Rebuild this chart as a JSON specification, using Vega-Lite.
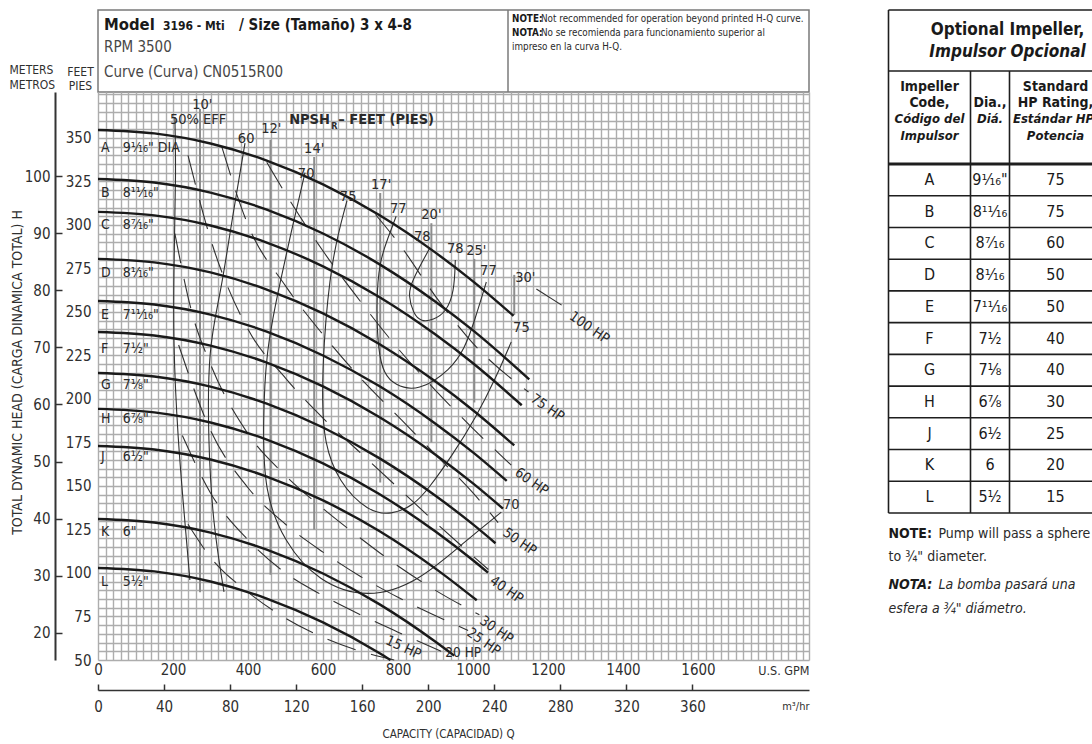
{
  "$schema": "https://vega.github.io/schema/vega-lite/v6.json",
  "padding": {"left": 8, "top": 8, "right": 0, "bottom": 0},
  "background": "white",
  "config": {
    "font": "Liberation Sans Narrow, DejaVu Sans Condensed, sans-serif",
    "view": {"stroke": null},
    "text": {"color": "#2a2a2a"},
    "axis": {"labelColor": "#2f2f2f", "titleColor": "#2f2f2f", "titleFontWeight": "normal"}
  },
  "datasets": {
    "htx": [
      {"t": "Model", "x": 6, "y": 20, "r": "big"},
      {"t": "3196 - Mti", "x": 65, "y": 20, "r": "mid"},
      {"t": "/ Size (Tamaño) 3 x 4-8", "x": 141, "y": 20, "r": "big2"},
      {"t": "RPM 3500", "x": 6, "y": 42, "r": "reg"},
      {"t": "Curve (Curva) CN0515R00", "x": 6, "y": 66.5, "r": "reg"},
      {"t": "NOTE:", "x": 414, "y": 11.5, "r": "nb"},
      {"t": "Not recommended for operation beyond printed H-Q curve.", "x": 443, "y": 11.5, "r": "n"},
      {"t": "NOTA:", "x": 414, "y": 25.5, "r": "nb"},
      {"t": "No se recomienda para funcionamiento superior al", "x": 443, "y": 25.5, "r": "n"},
      {"t": "impreso en la curva H-Q.", "x": 414, "y": 39.5, "r": "n"}
    ],
    "hq": [
      {"c": "A", "q": 0, "h": 354.6}, {"c": "A", "q": 150, "h": 352.6}, {"c": "A", "q": 300, "h": 346.8}, {"c": "A", "q": 450, "h": 337.0}, {"c": "A", "q": 600, "h": 323.3}, {"c": "A", "q": 750, "h": 305.7}, {"c": "A", "q": 900, "h": 284.1}, {"c": "A", "q": 1000, "h": 267.6}, {"c": "A", "q": 1108, "h": 247.8},
      {"c": "B", "q": 0, "h": 326.4}, {"c": "B", "q": 150, "h": 324.4}, {"c": "B", "q": 300, "h": 318.6}, {"c": "B", "q": 450, "h": 308.8}, {"c": "B", "q": 600, "h": 295.1}, {"c": "B", "q": 750, "h": 277.5}, {"c": "B", "q": 900, "h": 255.9}, {"c": "B", "q": 1000, "h": 239.4}, {"c": "B", "q": 1150, "h": 211.3},
      {"c": "C", "q": 0, "h": 307.5}, {"c": "C", "q": 150, "h": 305.5}, {"c": "C", "q": 300, "h": 299.7}, {"c": "C", "q": 450, "h": 289.9}, {"c": "C", "q": 600, "h": 276.2}, {"c": "C", "q": 750, "h": 258.6}, {"c": "C", "q": 900, "h": 237.0}, {"c": "C", "q": 1000, "h": 220.5}, {"c": "C", "q": 1130, "h": 196.4},
      {"c": "D", "q": 0, "h": 280.5}, {"c": "D", "q": 150, "h": 278.5}, {"c": "D", "q": 300, "h": 272.7}, {"c": "D", "q": 450, "h": 262.9}, {"c": "D", "q": 600, "h": 249.2}, {"c": "D", "q": 750, "h": 231.6}, {"c": "D", "q": 900, "h": 210.0}, {"c": "D", "q": 1000, "h": 193.5}, {"c": "D", "q": 1110, "h": 173.3},
      {"c": "E", "q": 0, "h": 256.3}, {"c": "E", "q": 150, "h": 254.3}, {"c": "E", "q": 300, "h": 248.5}, {"c": "E", "q": 450, "h": 238.7}, {"c": "E", "q": 600, "h": 225.0}, {"c": "E", "q": 750, "h": 207.4}, {"c": "E", "q": 900, "h": 185.8}, {"c": "E", "q": 1000, "h": 169.3}, {"c": "E", "q": 1090, "h": 152.9},
      {"c": "F", "q": 0, "h": 238.5}, {"c": "F", "q": 150, "h": 236.5}, {"c": "F", "q": 300, "h": 230.7}, {"c": "F", "q": 450, "h": 220.9}, {"c": "F", "q": 600, "h": 207.2}, {"c": "F", "q": 750, "h": 189.6}, {"c": "F", "q": 900, "h": 168.0}, {"c": "F", "q": 1000, "h": 151.5}, {"c": "F", "q": 1080, "h": 137.0},
      {"c": "G", "q": 0, "h": 214.9}, {"c": "G", "q": 150, "h": 212.9}, {"c": "G", "q": 300, "h": 207.1}, {"c": "G", "q": 450, "h": 197.3}, {"c": "G", "q": 600, "h": 183.6}, {"c": "G", "q": 750, "h": 166.0}, {"c": "G", "q": 900, "h": 144.4}, {"c": "G", "q": 1000, "h": 127.9}, {"c": "G", "q": 1060, "h": 117.1},
      {"c": "H", "q": 0, "h": 194.3}, {"c": "H", "q": 150, "h": 192.3}, {"c": "H", "q": 300, "h": 186.5}, {"c": "H", "q": 450, "h": 176.7}, {"c": "H", "q": 600, "h": 163.0}, {"c": "H", "q": 750, "h": 145.4}, {"c": "H", "q": 900, "h": 123.8}, {"c": "H", "q": 1000, "h": 107.3}, {"c": "H", "q": 1040, "h": 100.2},
      {"c": "J", "q": 0, "h": 173.0}, {"c": "J", "q": 150, "h": 171.0}, {"c": "J", "q": 300, "h": 165.2}, {"c": "J", "q": 450, "h": 155.4}, {"c": "J", "q": 600, "h": 141.7}, {"c": "J", "q": 750, "h": 124.1}, {"c": "J", "q": 900, "h": 102.5}, {"c": "J", "q": 1010, "h": 84.3},
      {"c": "K", "q": 0, "h": 131.0}, {"c": "K", "q": 150, "h": 129.0}, {"c": "K", "q": 300, "h": 123.2}, {"c": "K", "q": 450, "h": 113.4}, {"c": "K", "q": 600, "h": 99.7}, {"c": "K", "q": 750, "h": 82.1}, {"c": "K", "q": 900, "h": 60.5}, {"c": "K", "q": 950, "h": 52.5},
      {"c": "L", "q": 0, "h": 102.9}, {"c": "L", "q": 150, "h": 100.9}, {"c": "L", "q": 300, "h": 95.1}, {"c": "L", "q": 450, "h": 85.3}, {"c": "L", "q": 600, "h": 71.6}, {"c": "L", "q": 750, "h": 54.0}, {"c": "L", "q": 780, "h": 50.0}
    ],
    "eff": [
      {"e": "50", "i": 0, "q": 205, "h": 362}, {"e": "50", "i": 1, "q": 208, "h": 330}, {"e": "50", "i": 2, "q": 203, "h": 284.5}, {"e": "50", "i": 3, "q": 200, "h": 232.8}, {"e": "50", "i": 4, "q": 213.5, "h": 175.3}, {"e": "50", "i": 5, "q": 229.5, "h": 135}, {"e": "50", "i": 6, "q": 245, "h": 96},
      {"e": "60", "i": 0, "q": 392, "h": 347}, {"e": "60", "i": 1, "q": 355, "h": 300}, {"e": "60", "i": 2, "q": 328, "h": 261.5}, {"e": "60", "i": 3, "q": 293.6, "h": 229.9}, {"e": "60", "i": 4, "q": 293.6, "h": 175.3}, {"e": "60", "i": 5, "q": 307, "h": 127.6}, {"e": "60", "i": 6, "q": 336, "h": 89.1},
      {"e": "70", "i": 0, "q": 552, "h": 330}, {"e": "70", "i": 1, "q": 515, "h": 296}, {"e": "70", "i": 2, "q": 480, "h": 261.5}, {"e": "70", "i": 3, "q": 448, "h": 227}, {"e": "70", "i": 4, "q": 440, "h": 186.8}, {"e": "70", "i": 5, "q": 443, "h": 146.6}, {"e": "70", "i": 6, "q": 496, "h": 117.8}, {"e": "70", "i": 7, "q": 587, "h": 94.8}, {"e": "70", "i": 8, "q": 720.6, "h": 85}, {"e": "70", "i": 9, "q": 854, "h": 94.8}, {"e": "70", "i": 10, "q": 977, "h": 117.8}, {"e": "70", "i": 11, "q": 1075.5, "h": 135},
      {"e": "75", "i": 0, "q": 664, "h": 314}, {"e": "75", "i": 1, "q": 621.8, "h": 280.5}, {"e": "75", "i": 2, "q": 600.5, "h": 228.7}, {"e": "75", "i": 3, "q": 597.8, "h": 198.3}, {"e": "75", "i": 4, "q": 603, "h": 175.3}, {"e": "75", "i": 5, "q": 640.5, "h": 152.3}, {"e": "75", "i": 6, "q": 720.6, "h": 135.1}, {"e": "75", "i": 7, "q": 782, "h": 133.3}, {"e": "75", "i": 8, "q": 843, "h": 139.1}, {"e": "75", "i": 9, "q": 880.7, "h": 148.3}, {"e": "75", "i": 10, "q": 942, "h": 166.7}, {"e": "75", "i": 11, "q": 1008.8, "h": 189.7}, {"e": "75", "i": 12, "q": 1062, "h": 212.6}, {"e": "75", "i": 13, "q": 1102, "h": 232.8},
      {"e": "77", "i": 0, "q": 795, "h": 305}, {"e": "77", "i": 1, "q": 774, "h": 293.1}, {"e": "77", "i": 2, "q": 750, "h": 278.7}, {"e": "77", "i": 3, "q": 742, "h": 255.7}, {"e": "77", "i": 4, "q": 747, "h": 227}, {"e": "77", "i": 5, "q": 763, "h": 214.4}, {"e": "77", "i": 6, "q": 790, "h": 208}, {"e": "77", "i": 7, "q": 854, "h": 204}, {"e": "77", "i": 8, "q": 942, "h": 217.2}, {"e": "77", "i": 9, "q": 977, "h": 228.7}, {"e": "77", "i": 10, "q": 1003.5, "h": 244.3}, {"e": "77", "i": 11, "q": 1035.5, "h": 267.2},
      {"e": "78", "i": 0, "q": 883.4, "h": 286.2}, {"e": "78", "i": 1, "q": 835.3, "h": 267.2}, {"e": "78", "i": 2, "q": 827.3, "h": 259.8}, {"e": "78", "i": 3, "q": 840.7, "h": 248.9}, {"e": "78", "i": 4, "q": 862, "h": 244.3}, {"e": "78", "i": 5, "q": 894, "h": 245.4}, {"e": "78", "i": 6, "q": 928.7, "h": 250}, {"e": "78", "i": 7, "q": 950, "h": 261.5}, {"e": "78", "i": 8, "q": 952.8, "h": 279.9}
    ],
    "hp": [
      {"p": "100", "q": 1169, "h": 263.2}, {"p": "100", "q": 1244, "h": 252.9},
      {"p": "75", "q": 740, "h": 306}, {"p": "75", "q": 800, "h": 290}, {"p": "75", "q": 900, "h": 259}, {"p": "75", "q": 1000, "h": 232}, {"p": "75", "q": 1148, "h": 204},
      {"p": "60", "q": 450, "h": 336}, {"p": "60", "q": 500, "h": 318}, {"p": "60", "q": 600, "h": 285}, {"p": "60", "q": 700, "h": 256}, {"p": "60", "q": 800, "h": 229}, {"p": "60", "q": 900, "h": 205}, {"p": "60", "q": 1000, "h": 183}, {"p": "60", "q": 1102, "h": 162},
      {"p": "50", "q": 330, "h": 345}, {"p": "50", "q": 400, "h": 300}, {"p": "50", "q": 500, "h": 265}, {"p": "50", "q": 600, "h": 237}, {"p": "50", "q": 700, "h": 212}, {"p": "50", "q": 800, "h": 190}, {"p": "50", "q": 900, "h": 168}, {"p": "50", "q": 1000, "h": 146}, {"p": "50", "q": 1067, "h": 129},
      {"p": "40", "q": 240, "h": 340}, {"p": "40", "q": 300, "h": 292}, {"p": "40", "q": 400, "h": 240}, {"p": "40", "q": 500, "h": 212}, {"p": "40", "q": 600, "h": 189}, {"p": "40", "q": 700, "h": 169}, {"p": "40", "q": 800, "h": 149}, {"p": "40", "q": 900, "h": 129}, {"p": "40", "q": 1041, "h": 102},
      {"p": "30", "q": 205, "h": 295}, {"p": "30", "q": 250, "h": 250}, {"p": "30", "q": 300, "h": 220}, {"p": "30", "q": 400, "h": 180}, {"p": "30", "q": 500, "h": 156}, {"p": "30", "q": 600, "h": 137}, {"p": "30", "q": 700, "h": 120}, {"p": "30", "q": 800, "h": 104}, {"p": "30", "q": 900, "h": 90}, {"p": "30", "q": 1017, "h": 76},
      {"p": "25", "q": 215, "h": 231}, {"p": "25", "q": 300, "h": 182}, {"p": "25", "q": 400, "h": 149}, {"p": "25", "q": 500, "h": 128}, {"p": "25", "q": 600, "h": 112}, {"p": "25", "q": 700, "h": 98}, {"p": "25", "q": 800, "h": 86}, {"p": "25", "q": 987, "h": 67},
      {"p": "20", "q": 225, "h": 179}, {"p": "20", "q": 300, "h": 146}, {"p": "20", "q": 400, "h": 119}, {"p": "20", "q": 500, "h": 100}, {"p": "20", "q": 600, "h": 87}, {"p": "20", "q": 700, "h": 76}, {"p": "20", "q": 800, "h": 66}, {"p": "20", "q": 915, "h": 55},
      {"p": "15", "q": 240, "h": 128}, {"p": "15", "q": 300, "h": 109}, {"p": "15", "q": 400, "h": 89}, {"p": "15", "q": 500, "h": 74}, {"p": "15", "q": 600, "h": 63}, {"p": "15", "q": 700, "h": 55}, {"p": "15", "q": 790, "h": 50}
    ],
    "npsh": [
      {"n": "10'", "q": 272, "h": 366.7, "h2": 89},
      {"n": "12'", "q": 460, "h": 349, "h2": 99},
      {"n": "14'", "q": 576.5, "h": 339, "h2": 125},
      {"n": "17'", "q": 752.6, "h": 318.4, "h2": 152},
      {"n": "20'", "q": 889, "h": 301, "h2": 175},
      {"n": "25'", "q": 1003.5, "h": 280.5, "h2": 198},
      {"n": "30'", "q": 1110, "h": 271.3, "h2": 248.3}
    ],
    "cl": [
      {"t": "A", "q": 8, "h": 344.3}, {"t": "9¹⁄₁₆\" DIA", "q": 66, "h": 344.3},
      {"t": "B", "q": 8, "h": 318.5}, {"t": "8¹¹⁄₁₆\"", "q": 66, "h": 318.5},
      {"t": "C", "q": 8, "h": 299.8}, {"t": "8⁷⁄₁₆\"", "q": 66, "h": 299.8},
      {"t": "D", "q": 8, "h": 272.6}, {"t": "8¹⁄₁₆\"", "q": 66, "h": 272.6},
      {"t": "E", "q": 8, "h": 248.1}, {"t": "7¹¹⁄₁₆\"", "q": 66, "h": 248.1},
      {"t": "F", "q": 8, "h": 228.9}, {"t": "7½\"", "q": 66, "h": 228.9},
      {"t": "G", "q": 8, "h": 207.9}, {"t": "7⅛\"", "q": 66, "h": 207.9},
      {"t": "H", "q": 8, "h": 188.3}, {"t": "6⅞\"", "q": 66, "h": 188.3},
      {"t": "J", "q": 8, "h": 166.7}, {"t": "6½\"", "q": 66, "h": 166.7},
      {"t": "K", "q": 8, "h": 123.6}, {"t": "6\"", "q": 66, "h": 123.6},
      {"t": "L", "q": 8, "h": 94.8}, {"t": "5½\"", "q": 66, "h": 94.8}
    ],
    "lab": [
      {"t": "50% EFF", "q": 267, "h": 360.3},
      {"t": "10'", "q": 278, "h": 369},
      {"t": "60", "q": 395, "h": 349.4},
      {"t": "12'", "q": 462, "h": 355.2},
      {"t": "14'", "q": 576.5, "h": 343.7},
      {"t": "70", "q": 555, "h": 329.3},
      {"t": "75", "q": 667, "h": 316.1},
      {"t": "17'", "q": 755, "h": 323},
      {"t": "77", "q": 800.6, "h": 309.2},
      {"t": "20'", "q": 889, "h": 305.7},
      {"t": "78", "q": 864.7, "h": 293.1},
      {"t": "78", "q": 952.8, "h": 286.2},
      {"t": "25'", "q": 1008.8, "h": 285},
      {"t": "77", "q": 1041, "h": 273.6},
      {"t": "30'", "q": 1139.6, "h": 269.5},
      {"t": "75", "q": 1129, "h": 240.8},
      {"t": "70", "q": 1102, "h": 139.1}
    ],
    "npt": [
      {"t": "NPSH", "q": 509.7, "h": 360.3},
      {"t": "R", "q": 622, "h": 356.9},
      {"t": "– FEET (PIES)", "q": 640.5, "h": 360.3}
    ],
    "hpl": [
      {"t": "100 HP", "q": 1310, "h": 240.8},
      {"t": "75 HP", "q": 1198, "h": 194.8},
      {"t": "60 HP", "q": 1156, "h": 152.3},
      {"t": "50 HP", "q": 1124, "h": 117.8},
      {"t": "40 HP", "q": 1089, "h": 90.2},
      {"t": "30 HP", "q": 1062, "h": 67.2},
      {"t": "25 HP", "q": 1028, "h": 60.3},
      {"t": "20 HP", "q": 974, "h": 54},
      {"t": "15 HP", "q": 814, "h": 57}
    ],
    "thl": [{"y": 0}, {"y": 61}, {"y": 185.7}, {"y": 217.5}, {"y": 249.2}, {"y": 280.9}, {"y": 312.6}, {"y": 344.4}, {"y": 376.1}, {"y": 407.8}, {"y": 439.5}, {"y": 471.3}, {"y": 503}],
    "thk": [{"y": 154}],
    "tvl": [{"x": 0, "y": 0, "y2": 503}, {"x": 82, "y": 61, "y2": 503}, {"x": 121, "y": 61, "y2": 503}, {"x": 213, "y": 0, "y2": 503}],
    "ttx": [
      {"t": "Optional Impeller,", "x": 119, "y": 20, "r": "t"},
      {"t": "Impulsor Opcional", "x": 119, "y": 42, "r": "ti"},
      {"t": "Impeller", "x": 41, "y": 77, "r": "h"},
      {"t": "Code,", "x": 41, "y": 93, "r": "h"},
      {"t": "Código del", "x": 41, "y": 109, "r": "hi"},
      {"t": "Impulsor", "x": 41, "y": 126, "r": "hi"},
      {"t": "Dia.,", "x": 101.5, "y": 93, "r": "h"},
      {"t": "Diá.", "x": 101.5, "y": 109, "r": "hi"},
      {"t": "Standard", "x": 167, "y": 77, "r": "h"},
      {"t": "HP Rating,", "x": 167, "y": 93, "r": "h"},
      {"t": "Estándar HP", "x": 165, "y": 109, "r": "hi"},
      {"t": "Potencia", "x": 167, "y": 126, "r": "hi"},
      {"t": "NOTE:", "x": 0, "y": 524, "r": "nb"},
      {"t": "Pump will pass a sphere", "x": 50, "y": 524, "r": "n"},
      {"t": "to ¾\" diameter.", "x": 0, "y": 547, "r": "n"},
      {"t": "NOTA:", "x": 0, "y": 575, "r": "nbi"},
      {"t": "La bomba pasará  una", "x": 50, "y": 575, "r": "ni"},
      {"t": "esfera a ¾\" diámetro.", "x": 0, "y": 599, "r": "ni"}
    ],
    "tcode": [
      {"code": "A", "dia": "9¹⁄₁₆\"", "hp": "75"},
      {"code": "B", "dia": "8¹¹⁄₁₆", "hp": "75"},
      {"code": "C", "dia": "8⁷⁄₁₆", "hp": "60"},
      {"code": "D", "dia": "8¹⁄₁₆", "hp": "50"},
      {"code": "E", "dia": "7¹¹⁄₁₆", "hp": "50"},
      {"code": "F", "dia": "7½", "hp": "40"},
      {"code": "G", "dia": "7⅛", "hp": "40"},
      {"code": "H", "dia": "6⅞", "hp": "30"},
      {"code": "J", "dia": "6½", "hp": "25"},
      {"code": "K", "dia": "6", "hp": "20"},
      {"code": "L", "dia": "5½", "hp": "15"}
    ]
  },
  "hconcat": [
    {
      "spacing": 0,
      "bounds": "flush",
      "vconcat": [
        {
          "width": 711,
          "height": 82,
          "view": {"stroke": "#7a7a7a", "strokeWidth": 1.5},
          "data": {"name": "htx"},
          "encoding": {
            "x": {"field": "x", "type": "quantitative", "scale": {"domain": [0, 711], "nice": false, "zero": false}, "axis": null},
            "y": {"field": "y", "type": "quantitative", "scale": {"domain": [0, 82], "nice": false, "zero": false, "reverse": true},
              "axis": {"labels": false, "ticks": false, "domain": false, "grid": false, "title": ["METERS", "METROS"], "titleAngle": 0, "titleAlign": "left", "titleBaseline": "middle", "titleX": -89, "titleY": 59.5, "titleFontSize": 12, "titleLineHeight": 15}},
            "text": {"field": "t"}
          },
          "layer": [
            {"transform": [{"filter": "datum.r === 'big'"}], "mark": {"type": "text", "align": "left", "baseline": "alphabetic", "fontSize": 16.5, "fontWeight": "bold", "color": "#1a1a1a"}},
            {"transform": [{"filter": "datum.r === 'big2'"}], "mark": {"type": "text", "align": "left", "baseline": "alphabetic", "fontSize": 15, "fontWeight": "bold", "color": "#1a1a1a"}},
            {"transform": [{"filter": "datum.r === 'mid'"}], "mark": {"type": "text", "align": "left", "baseline": "alphabetic", "fontSize": 12, "fontWeight": "bold", "color": "#1a1a1a"}},
            {"transform": [{"filter": "datum.r === 'reg'"}], "mark": {"type": "text", "align": "left", "baseline": "alphabetic", "fontSize": 15, "color": "#474747"}},
            {"transform": [{"filter": "datum.r === 'nb'"}], "mark": {"type": "text", "align": "left", "baseline": "alphabetic", "fontSize": 9.8, "fontWeight": "bold", "color": "#1a1a1a"}},
            {"transform": [{"filter": "datum.r === 'n'"}], "mark": {"type": "text", "align": "left", "baseline": "alphabetic", "fontSize": 9.8, "color": "#2a2a2a"}},
            {"data": {"values": [{"x": 410, "y": 0, "y2": 82}]}, "mark": {"type": "rule", "color": "#7a7a7a", "strokeWidth": 1.5}, "encoding": {"y2": {"field": "y2"}, "text": null}}
          ]
        },
        {
          "width": 711,
          "height": 568,
          "resolve": {"scale": {"x": "independent", "y": "independent"}, "axis": {"x": "independent", "y": "independent"}},
          "layer": [
            {
              "encoding": {
                "x": {"field": "q", "type": "quantitative", "scale": {"domain": [0, 1896], "nice": false, "zero": false},
                  "axis": {"orient": "bottom", "values": [0,20,40,60,80,100,120,140,160,180,200,220,240,260,280,300,320,340,360,380,400,420,440,460,480,500,520,540,560,580,600,620,640,660,680,700,720,740,760,780,800,820,840,860,880,900,920,940,960,980,1000,1020,1040,1060,1080,1100,1120,1140,1160,1180,1200,1220,1240,1260,1280,1300,1320,1340,1360,1380,1400,1420,1440,1460,1480,1500,1520,1540,1560,1580,1600,1620,1640,1660,1680,1700,1720,1740,1760,1780,1800,1820,1840,1860,1880,1896],
                    "format": "d", "labelExpr": "datum.value % 200 === 0 && datum.value <= 1600 ? datum.label : ''",
                    "grid": true, "gridColor": "#adadad", "gridWidth": 1.4, "gridOpacity": 1,
                    "domain": false, "ticks": false, "tickSize": 0, "labelPadding": 2, "labelFontSize": 15, "labelFlush": false, "labelOverlap": false,
                    "title": "U.S. GPM", "titleFontSize": 12.5, "titleAlign": "right", "titleBaseline": "middle", "titleX": 711, "titleY": 10}},
                "y": {"field": "h", "type": "quantitative", "scale": {"domain": [50, 376.4], "nice": false, "zero": false},
                  "axis": {"orient": "left", "values": [50,55,60,65,70,75,80,85,90,95,100,105,110,115,120,125,130,135,140,145,150,155,160,165,170,175,180,185,190,195,200,205,210,215,220,225,230,235,240,245,250,255,260,265,270,275,280,285,290,295,300,305,310,315,320,325,330,335,340,345,350,355,360,365,370,375],
                    "labelExpr": "datum.value % 25 === 0 && datum.value <= 350 ? datum.label : ''",
                    "grid": true, "gridColor": "#adadad", "gridWidth": 1.4, "gridOpacity": 1,
                    "domain": false, "ticks": false, "tickSize": 0, "labelPadding": 7, "labelFontSize": 15, "labelFlush": false, "labelOverlap": false,
                    "title": ["FEET", "PIES"], "titleAngle": 0, "titleAlign": "center", "titleBaseline": "middle", "titleX": -18, "titleY": -21, "titleFontSize": 12, "titleLineHeight": 14}}
              },
              "layer": [
                {"data": {"name": "npsh"}, "mark": {"type": "rule", "color": "#8d8d8d", "strokeWidth": 2}, "encoding": {"y2": {"field": "h2"}}},
                {"data": {"name": "eff"}, "mark": {"type": "line", "interpolate": "basis", "color": "#303030", "strokeWidth": 1.1}, "encoding": {"detail": {"field": "e"}, "order": {"field": "i", "type": "quantitative"}}},
                {"data": {"name": "hp"}, "mark": {"type": "line", "interpolate": "monotone", "color": "#303030", "strokeWidth": 1.1, "strokeDash": [30, 16]}, "encoding": {"detail": {"field": "p"}}},
                {"data": {"name": "hq"}, "mark": {"type": "line", "interpolate": "monotone", "color": "#1a1a1a", "strokeWidth": 2.4}, "encoding": {"detail": {"field": "c"}}},
                {"data": {"name": "cl"}, "mark": {"type": "text", "align": "left", "baseline": "middle", "fontSize": 14}, "encoding": {"text": {"field": "t"}}},
                {"data": {"name": "lab"}, "mark": {"type": "text", "align": "center", "baseline": "middle", "fontSize": 14.5}, "encoding": {"text": {"field": "t"}}},
                {"data": {"name": "npt"}, "transform": [{"filter": "datum.t !== 'R'"}], "mark": {"type": "text", "align": "left", "baseline": "middle", "fontSize": 14.5, "fontWeight": "bold"}, "encoding": {"text": {"field": "t"}}},
                {"data": {"name": "npt"}, "transform": [{"filter": "datum.t === 'R'"}], "mark": {"type": "text", "align": "left", "baseline": "middle", "fontSize": 9, "fontWeight": "bold"}, "encoding": {"text": {"field": "t"}}},
                {"data": {"name": "hpl"}, "transform": [{"filter": "datum.t !== '20 HP' && datum.t !== '15 HP'"}], "mark": {"type": "text", "align": "center", "baseline": "middle", "fontSize": 14, "angle": 35}, "encoding": {"text": {"field": "t"}}},
                {"data": {"name": "hpl"}, "transform": [{"filter": "datum.t === '20 HP'"}], "mark": {"type": "text", "align": "center", "baseline": "middle", "fontSize": 13.5}, "encoding": {"text": {"field": "t"}}},
                {"data": {"name": "hpl"}, "transform": [{"filter": "datum.t === '15 HP'"}], "mark": {"type": "text", "align": "center", "baseline": "middle", "fontSize": 14, "angle": 25}, "encoding": {"text": {"field": "t"}}}
              ]
            },
            {
              "data": {"values": [{"m3": 0, "m": 15.24}, {"m3": 430.6, "m": 114.73}]},
              "mark": {"type": "point", "opacity": 0},
              "encoding": {
                "x": {"field": "m3", "type": "quantitative", "scale": {"domain": [0, 430.6], "nice": false, "zero": false},
                  "axis": {"orient": "bottom", "offset": 30, "values": [0,40,80,120,160,200,240,280,320,360], "format": "d", "grid": false,
                    "tickSize": -6, "tickWidth": 1.5, "tickColor": "#333333", "domainColor": "#333333", "domainWidth": 1.5,
                    "labelPadding": 15, "labelFontSize": 15, "labelFlush": false, "labelOverlap": false,
                    "title": "m³/hr", "titleFontSize": 11, "titleAlign": "right", "titleBaseline": "middle", "titleX": 711, "titleY": 16}},
                "y": {"field": "m", "type": "quantitative", "scale": {"domain": [15.24, 114.73], "nice": false, "zero": false},
                  "axis": {"orient": "left", "offset": 43, "values": [20,30,40,50,60,70,80,90,100], "grid": false,
                    "tickSize": -7, "tickWidth": 1.5, "tickColor": "#333333", "domainColor": "#333333", "domainWidth": 2,
                    "labelPadding": 12, "labelFontSize": 15, "labelFlush": false,
                    "title": "TOTAL DYNAMIC HEAD (CARGA DINAMICA TOTAL) H", "titleFontSize": 14, "titleAngle": -90, "titleAlign": "center", "titleBaseline": "middle", "titleX": -38, "titleY": 280}}
              }
            },
            {
              "data": {"values": [{"c": 0}, {"c": 1}]},
              "mark": {"type": "point", "opacity": 0},
              "encoding": {
                "x": {"field": "c", "type": "quantitative", "axis": {"orient": "bottom", "domain": false, "ticks": false, "labels": false, "grid": false,
                  "title": "CAPACITY (CAPACIDAD) Q", "titleFontSize": 11.5, "titleAlign": "center", "titleBaseline": "middle", "titleX": 350, "titleY": 74}},
                "y": {"field": "c", "type": "quantitative", "axis": null}
              }
            }
          ]
        }
      ]
    },
    {
      "width": 213,
      "height": 610,
      "resolve": {"scale": {"y": "independent"}},
      "layer": [
        {
          "encoding": {
            "y": {"field": "y", "type": "quantitative", "scale": {"domain": [0, 610], "nice": false, "zero": false, "reverse": true}, "axis": null}
          },
          "layer": [
            {"data": {"name": "thl"}, "mark": {"type": "rule", "color": "#1e1e1e", "strokeWidth": 1.6}, "encoding": {"x": {"datum": 0, "type": "quantitative", "scale": {"domain": [0, 213], "nice": false, "zero": false}, "axis": null}, "x2": {"datum": 213}}},
            {"data": {"name": "thk"}, "mark": {"type": "rule", "color": "#1e1e1e", "strokeWidth": 3.2}, "encoding": {"x": {"datum": 0, "type": "quantitative", "axis": null}, "x2": {"datum": 213}}},
            {"data": {"name": "tvl"}, "mark": {"type": "rule", "color": "#1e1e1e", "strokeWidth": 1.6}, "encoding": {"x": {"field": "x", "type": "quantitative", "axis": null}, "y2": {"field": "y2"}}},
            {"data": {"name": "ttx"}, "transform": [{"filter": "datum.r === 't'"}], "mark": {"type": "text", "align": "center", "baseline": "middle", "fontSize": 17, "fontWeight": "bold", "color": "#1a1a1a"}, "encoding": {"x": {"field": "x", "type": "quantitative", "axis": null}, "text": {"field": "t"}}},
            {"data": {"name": "ttx"}, "transform": [{"filter": "datum.r === 'ti'"}], "mark": {"type": "text", "align": "center", "baseline": "middle", "fontSize": 17, "fontWeight": "bold", "fontStyle": "italic", "color": "#1a1a1a"}, "encoding": {"x": {"field": "x", "type": "quantitative", "axis": null}, "text": {"field": "t"}}},
            {"data": {"name": "ttx"}, "transform": [{"filter": "datum.r === 'h'"}], "mark": {"type": "text", "align": "center", "baseline": "middle", "fontSize": 14, "fontWeight": "bold", "color": "#1a1a1a"}, "encoding": {"x": {"field": "x", "type": "quantitative", "axis": null}, "text": {"field": "t"}}},
            {"data": {"name": "ttx"}, "transform": [{"filter": "datum.r === 'hi'"}], "mark": {"type": "text", "align": "center", "baseline": "middle", "fontSize": 13, "fontWeight": "bold", "fontStyle": "italic", "color": "#1a1a1a"}, "encoding": {"x": {"field": "x", "type": "quantitative", "axis": null}, "text": {"field": "t"}}},
            {"data": {"name": "ttx"}, "transform": [{"filter": "datum.r === 'nb'"}], "mark": {"type": "text", "align": "left", "baseline": "middle", "fontSize": 14, "fontWeight": "bold", "color": "#1a1a1a"}, "encoding": {"x": {"field": "x", "type": "quantitative", "axis": null}, "text": {"field": "t"}}},
            {"data": {"name": "ttx"}, "transform": [{"filter": "datum.r === 'nbi'"}], "mark": {"type": "text", "align": "left", "baseline": "middle", "fontSize": 14, "fontWeight": "bold", "fontStyle": "italic", "color": "#1a1a1a"}, "encoding": {"x": {"field": "x", "type": "quantitative", "axis": null}, "text": {"field": "t"}}},
            {"data": {"name": "ttx"}, "transform": [{"filter": "datum.r === 'n'"}], "mark": {"type": "text", "align": "left", "baseline": "middle", "fontSize": 14, "color": "#2a2a2a"}, "encoding": {"x": {"field": "x", "type": "quantitative", "axis": null}, "text": {"field": "t"}}},
            {"data": {"name": "ttx"}, "transform": [{"filter": "datum.r === 'ni'"}], "mark": {"type": "text", "align": "left", "baseline": "middle", "fontSize": 14, "fontStyle": "italic", "color": "#2a2a2a"}, "encoding": {"x": {"field": "x", "type": "quantitative", "axis": null}, "text": {"field": "t"}}}
          ]
        },
        {
          "data": {"name": "tcode"},
          "encoding": {
            "y": {"field": "code", "type": "ordinal", "scale": {"type": "point", "domain": ["A","B","C","D","E","F","G","H","J","K","L"], "range": [169.9, 487.1], "padding": 0}, "axis": null}
          },
          "layer": [
            {"mark": {"type": "text", "align": "center", "baseline": "middle", "fontSize": 16, "color": "#1a1a1a"}, "encoding": {"x": {"datum": 41, "type": "quantitative", "axis": null}, "text": {"field": "code"}}},
            {"mark": {"type": "text", "align": "center", "baseline": "middle", "fontSize": 16, "color": "#1a1a1a"}, "encoding": {"x": {"datum": 101.5, "type": "quantitative", "axis": null}, "text": {"field": "dia"}}},
            {"mark": {"type": "text", "align": "center", "baseline": "middle", "fontSize": 16, "color": "#1a1a1a"}, "encoding": {"x": {"datum": 167, "type": "quantitative", "axis": null}, "text": {"field": "hp"}}}
          ]
        }
      ]
    }
  ],
  "spacing": 74.5
}
